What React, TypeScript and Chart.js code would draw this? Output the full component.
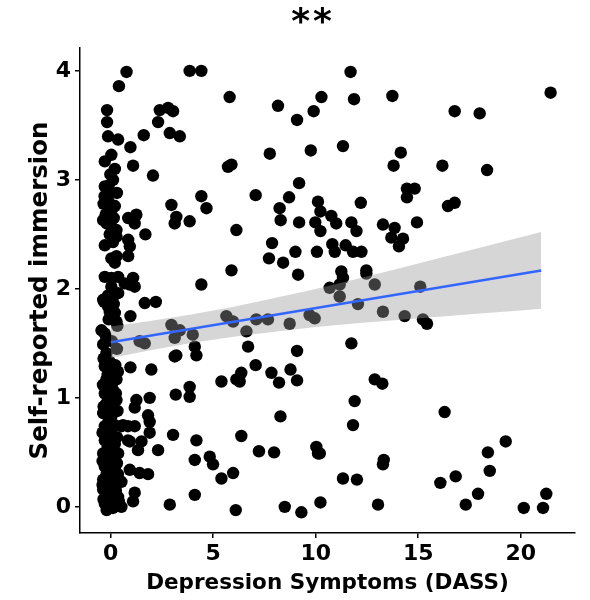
import React, { useEffect, useRef } from "react";
import { Chart, registerables } from "chart.js";

Chart.register(...registerables);

const titleText = "**";
const xAxisTitle = "Depression Symptoms (DASS)";
const yAxisTitle = "Self-reported immersion";
const xTicks = [0, 5, 10, 15, 20];
const yTicks = [0, 1, 2, 3, 4];

// [depression score, immersion]
const nearZeroObs: [number, number][] = [
  [-0.18, 3.64], [-0.18, 3.53], [-0.13, 3.4], [0.36, 3.37], [0.03, 3.23], [-0.29, 3.17], [-0.02, 3.05], [0.11, 3.0],
  [-0.29, 2.94], [-0.05, 2.89], [-0.35, 2.78], [-0.1, 2.8], [0.2, 2.76], [0.05, 2.73], [-0.3, 2.85], [-0.2, 2.6],
  [0.03, 2.57], [-0.05, 2.5], [-0.29, 2.4], [0.11, 2.43], [0.28, 2.48], [0.03, 2.28], [0.2, 2.24], [0.28, 2.3],
  [0.03, 2.1], [0.36, 2.11], [-0.37, 2.63], [0.28, 2.54], [-0.29, 2.11], [0.03, 2.02], [0.36, 1.96], [-0.37, 1.9],
  [-0.13, 1.84], [0.2, 1.78], [0.28, 1.7], [-0.37, 1.49], [-0.21, 1.41], [-0.13, 1.94], [0.11, 1.93], [-0.05, 1.79],
  [0.11, 1.76], [-0.45, 1.62], [-0.29, 1.59], [-0.29, 1.29], [0.03, 1.23], [-0.21, 1.17], [0.28, 1.17], [-0.29, 1.04],
  [0.11, 1.07], [-0.21, 0.95], [0.28, 0.98], [-0.37, 0.86], [0.03, 0.83], [-0.29, 0.74], [0.2, 0.75], [0.52, 0.74],
  [-0.29, 0.61], [0.2, 0.58], [-0.37, 0.49], [0.03, 0.46], [0.36, 0.49], [-0.29, 0.37], [0.2, 0.34], [-0.37, 0.25],
  [0.11, 0.22], [0.52, 0.23], [-0.37, 0.16], [0.03, 0.13], [0.36, 0.09], [-0.29, 0.03], [0.11, -0.01], [0.52, 0.0],
  [-0.32, 1.88], [0.15, 1.86], [-0.1, 1.72], [0.32, 1.66], [-0.22, 1.55], [0.05, 1.52], [0.3, 1.45], [-0.35, 1.36],
  [-0.05, 1.33], [0.22, 1.3], [-0.15, 1.21], [0.35, 1.24], [-0.38, 1.12], [0.05, 1.1], [0.25, 1.04], [-0.12, 1.0],
  [-0.35, 0.92], [0.12, 0.9], [0.33, 0.88], [-0.1, 0.79], [-0.4, 0.68], [0.05, 0.66], [0.3, 0.64], [-0.15, 0.55],
  [0.15, 0.52], [-0.4, 0.42], [-0.05, 0.4], [0.3, 0.4], [-0.2, 0.3], [0.1, 0.28], [0.35, 0.3], [-0.4, 0.2],
  [-0.05, 0.18], [0.25, 0.15], [-0.15, 0.08], [0.4, 0.05], [-0.35, 0.07], [0.0, 0.03], [-0.2, -0.03], [0.2, 0.01],
  [0.15, 2.65], [-0.25, 2.68], [0.3, 2.88], [-0.1, 2.95], [0.2, 3.1],
];

const lowRangeObs: [number, number][] = [
  [0.77, 3.99], [0.4, 3.86], [3.85, 4.0], [4.42, 4.0], [5.8, 3.76], [2.39, 3.64], [2.8, 3.66], [3.04, 3.63],
  [2.31, 3.53], [1.61, 3.41], [2.88, 3.43], [3.37, 3.4], [0.96, 3.3], [1.09, 3.13], [5.72, 3.12], [5.89, 3.14],
  [2.06, 3.04], [4.42, 2.85], [4.67, 2.74], [2.96, 2.77], [0.85, 2.65], [1.25, 2.68], [1.17, 2.6], [3.2, 2.66],
  [3.12, 2.6], [3.85, 2.62], [6.13, 2.54], [1.69, 2.5], [0.85, 2.45], [0.93, 2.39], [0.85, 2.3], [5.89, 2.17],
  [4.42, 2.04], [1.09, 2.1], [0.93, 2.04], [0.68, 2.05], [1.17, 2.02], [1.66, 1.87], [2.2, 1.88], [0.96, 1.75],
  [1.41, 1.52], [1.66, 1.5], [2.96, 1.67], [3.37, 1.62], [3.12, 1.55], [4.0, 1.58], [4.1, 1.47], [4.18, 1.39],
  [3.12, 1.38], [3.2, 1.39], [5.64, 1.75], [5.97, 1.7], [6.62, 1.61], [6.7, 1.47], [0.96, 1.28], [1.98, 1.26],
  [5.4, 1.15], [6.13, 1.17], [6.37, 1.23], [6.29, 1.15], [3.17, 1.03], [3.85, 1.1], [3.85, 1.01], [1.25, 0.98],
  [1.9, 1.0], [1.17, 0.91], [1.82, 0.84], [1.9, 0.78], [0.6, 0.75], [1.17, 0.74], [1.9, 0.68], [1.5, 0.6],
  [0.93, 0.6], [1.33, 0.52], [2.31, 0.52], [3.04, 0.66], [4.18, 0.61], [6.37, 0.65], [4.1, 0.43], [4.83, 0.46],
  [4.99, 0.39], [5.4, 0.26], [5.97, 0.31], [0.93, 0.34], [1.41, 0.31], [1.82, 0.3], [1.17, 0.13], [1.09, 0.05],
  [4.1, 0.11], [2.88, 0.02], [6.1, -0.03], [0.84, 0.74], [0.84, 0.61],
];

const midRangeObs: [number, number][] = [
  [11.7, 3.99], [13.74, 3.77], [10.28, 3.76], [11.87, 3.74], [8.16, 3.68], [9.9, 3.63], [9.09, 3.55], [7.76, 3.24],
  [9.76, 3.27], [11.33, 3.31], [13.8, 3.13], [9.19, 2.97], [7.07, 2.86], [8.7, 2.84], [8.24, 2.74], [10.11, 2.8],
  [10.23, 2.71], [12.2, 2.79], [8.29, 2.63], [9.19, 2.61], [9.98, 2.61], [10.23, 2.53], [10.76, 2.67], [11.0, 2.6],
  [11.74, 2.61], [11.99, 2.53], [13.28, 2.59], [13.85, 2.56], [13.69, 2.47], [7.87, 2.42], [7.72, 2.28], [8.41, 2.24],
  [9.01, 2.34], [10.06, 2.34], [10.81, 2.41], [10.93, 2.34], [11.46, 2.4], [11.82, 2.34], [12.23, 2.34], [9.14, 2.13],
  [11.25, 2.16], [11.33, 2.1], [12.47, 2.17], [12.47, 2.14], [10.68, 2.01], [12.88, 2.04], [11.17, 2.04], [11.17, 1.93],
  [7.1, 1.72], [7.67, 1.72], [8.73, 1.68], [9.7, 1.76], [9.95, 1.73], [12.06, 1.86], [13.28, 1.79], [11.74, 1.5],
  [9.09, 1.43], [7.07, 1.3], [7.84, 1.23], [8.21, 1.14], [8.77, 1.26], [9.09, 1.16], [12.88, 1.17], [13.25, 1.13],
  [11.9, 0.97], [8.28, 0.83], [11.82, 0.75], [7.23, 0.51], [7.97, 0.5], [10.03, 0.55], [10.11, 0.49], [10.2, 0.49],
  [13.32, 0.43], [13.28, 0.39], [11.33, 0.26], [12.01, 0.25], [8.49, 0.0], [9.3, -0.05], [10.23, 0.04], [13.04, 0.02],
];

const highRangeObs: [number, number][] = [
  [14.15, 3.25], [14.45, 2.92], [14.45, 2.84], [14.26, 2.46], [14.06, 2.39], [14.34, 1.75], [21.46, 3.8], [16.78, 3.63],
  [18.0, 3.61], [16.18, 3.13], [18.36, 3.09], [14.83, 2.92], [16.45, 2.76], [16.78, 2.79], [14.94, 2.61], [15.1, 2.02],
  [15.23, 1.72], [15.43, 1.68], [16.29, 0.87], [19.27, 0.6], [18.4, 0.5], [18.49, 0.33], [16.08, 0.22], [16.83, 0.28],
  [17.92, 0.12], [17.32, 0.02], [20.15, -0.01], [21.09, -0.01], [21.25, 0.12],
];

// linear fit and its confidence band
const fitX = [0, 21];
const fitY = [1.51, 2.169];
const bandX = [0, 2, 4, 6, 8, 10, 12, 14, 16, 18, 20, 21];
const bandUpper = [1.655, 1.708, 1.766, 1.836, 1.916, 1.999, 2.09, 2.185, 2.28, 2.377, 2.474, 2.521];
const bandLower = [1.365, 1.438, 1.506, 1.56, 1.606, 1.649, 1.684, 1.715, 1.744, 1.773, 1.802, 1.817];

const FONT = '"DejaVu Sans", "Liberation Sans", Arial, sans-serif';

export default function App() {
  const canvasRef = useRef<HTMLCanvasElement | null>(null);

  useEffect(() => {
    const canvas = canvasRef.current;
    if (!canvas) return;
    const allObs = [...nearZeroObs, ...lowRangeObs, ...midRangeObs, ...highRangeObs];

    const titlePlugin = {
      id: "topTitle",
      afterDraw(chart: any) {
        const ctx = chart.ctx;
        ctx.save();
        ctx.font = `bold 36px ${FONT}`;
        ctx.fillStyle = "#000";
        ctx.textAlign = "center";
        ctx.textBaseline = "alphabetic";
        try {
          (ctx as any).letterSpacing = "3px";
        } catch (e) {}
        ctx.fillText(titleText, 313, 33);
        ctx.restore();
      },
    };

    const chart = new Chart(canvas, {
      type: "scatter",
      data: {
        datasets: [
          {
            type: "line",
            data: fitX.map((x, i) => ({ x, y: fitY[i] })),
            borderColor: "#3366FF",
            borderWidth: 2.6,
            pointRadius: 0,
            fill: false,
            order: 0,
          } as any,
          {
            type: "line",
            data: bandX.map((x, i) => ({ x, y: bandUpper[i] })),
            borderColor: "rgba(0,0,0,0)",
            borderWidth: 0,
            pointRadius: 0,
            fill: false,
            order: 1,
          } as any,
          {
            type: "line",
            data: bandX.map((x, i) => ({ x, y: bandLower[i] })),
            borderColor: "rgba(0,0,0,0)",
            borderWidth: 0,
            pointRadius: 0,
            backgroundColor: "rgba(153,153,153,0.4)",
            fill: "-1",
            order: 1,
          } as any,
          {
            type: "scatter",
            data: allObs.map(([x, y]) => ({ x, y })),
            backgroundColor: "#000",
            borderWidth: 0,
            pointRadius: 6.2,
            pointHoverRadius: 6.2,
            order: 2,
          } as any,
        ],
      },
      options: {
        animation: false,
        responsive: false,
        events: [],
        layout: { padding: { top: 48, right: 15, bottom: 0, left: 0 } },
        plugins: {
          legend: { display: false },
          tooltip: { enabled: false },
          title: { display: false },
          filler: { drawTime: "beforeDatasetDraw", propagate: false },
        },
        scales: {
          x: {
            type: "linear",
            min: -1.5,
            max: 22.65,
            afterBuildTicks: (s: any) => {
              s.ticks = xTicks.map((v) => ({ value: v }));
            },
            afterFit: (s: any) => {
              s.height = 67;
            },
            ticks: {
              color: "#000",
              padding: 3,
              font: { family: FONT, size: 22, weight: "bold" },
            },
            grid: {
              display: true,
              drawOnChartArea: false,
              drawTicks: true,
              tickLength: 5,
              color: "#000",
              lineWidth: 1.5,
            },
            border: { display: true, color: "#000", width: 1.5 },
            title: {
              display: true,
              text: xAxisTitle,
              color: "#000",
              font: { family: FONT, size: 21.5, weight: "bold" },
              padding: { top: 0, bottom: 4 },
            },
          },
          y: {
            type: "linear",
            min: -0.24,
            max: 4.21,
            afterBuildTicks: (s: any) => {
              s.ticks = yTicks.map((v) => ({ value: v }));
            },
            afterFit: (s: any) => {
              s.width = 80;
            },
            ticks: {
              color: "#000",
              padding: 4,
              font: { family: FONT, size: 22, weight: "bold" },
            },
            grid: {
              display: true,
              drawOnChartArea: false,
              drawTicks: true,
              tickLength: 5,
              color: "#000",
              lineWidth: 1.5,
            },
            border: { display: true, color: "#000", width: 1.5 },
            title: {
              display: true,
              text: yAxisTitle,
              color: "#000",
              font: { family: FONT, size: 24.5, weight: "bold" },
              padding: { top: 26, bottom: 0 },
            },
          },
        },
      } as any,
      plugins: [titlePlugin],
    });

    return () => {
      chart.destroy();
    };
  }, []);

  return (
    <div style={{ position: "fixed", left: 0, top: 0, width: 590, height: 600, background: "#fff" }}>
      <canvas ref={canvasRef} width={590} height={600} style={{ display: "block" }} />
    </div>
  );
}
